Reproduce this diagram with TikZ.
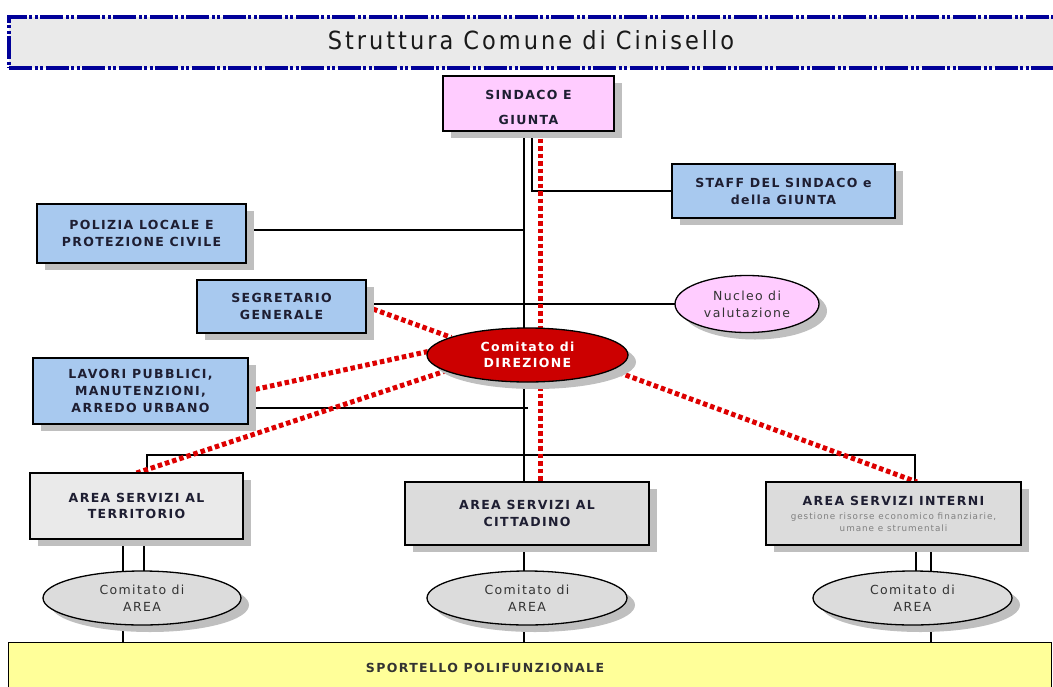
\documentclass[tikz,border=0pt]{standalone}
\usepackage{fontspec}
\setmainfont{DejaVu Sans}
\newfontfamily\lab[LetterSpace=11]{DejaVu Sans}
\newfontfamily\ttl[LetterSpace=12]{DejaVu Sans Condensed}
\usetikzlibrary{shapes.geometric,shadows,backgrounds}
\definecolor{pinkf}{HTML}{FFCCFF}
\definecolor{bluef}{HTML}{A8C9EF}
\definecolor{lgrayf}{HTML}{EAEAEA}
\definecolor{grayf}{HTML}{DCDCDC}
\definecolor{yelf}{HTML}{FFFF99}
\definecolor{redf}{HTML}{CC0000}
\definecolor{reddot}{HTML}{DD0000}
\definecolor{navy}{HTML}{000099}
\definecolor{txt}{HTML}{1E1E32}
\definecolor{txtg}{HTML}{333333}
\begin{document}
\begin{tikzpicture}[x=1pt,y=-1pt,
  shad/.style={drop shadow={shadow xshift=8pt,shadow yshift=-7pt,fill=black!25,opacity=1}},
  box/.style={draw=black,line width=1.3pt,shad,align=center,inner sep=0pt,outer sep=0pt,
    text=txt,font=\lab\bfseries\fontsize{12.5}{17}\selectfont},
  ell/.style={box,ellipse},
  conn/.style={draw=black,line width=1.2pt},
  thickconn/.style={draw=black,line width=2.6pt},
  reddash/.style={draw=reddot,line width=5pt,dash pattern=on 4.5pt off 3pt}]
\useasboundingbox (0,0) rectangle (1053,686);
% title
\node[draw=navy,line width=4pt,dash pattern=on 23pt off 2.5pt on 3pt off 2.5pt on 3pt off 2.5pt,
  fill=lgrayf,minimum width=1060pt,minimum height=51pt,inner sep=0pt,anchor=north west] (title) at (7,15) {};
\node[font=\ttl\fontsize{25}{30}\selectfont,text=black!90,inner sep=0pt] (ttext) at (531,40) {Struttura Comune di Cinisello};
% nodes
\node[box,fill=pinkf,minimum width=171pt,minimum height=55pt,text height=42.5pt,font=\lab\bfseries\fontsize{12.5}{25}\selectfont] (sind) at (528.5,103.5) {SINDACO E\\GIUNTA};
\node[box,fill=bluef,minimum width=223pt,minimum height=54pt] (staff) at (783.5,191) {STAFF DEL SINDACO e\\della GIUNTA};
\node[box,fill=bluef,minimum width=209pt,minimum height=59pt] (pol) at (141.5,233.5) {POLIZIA LOCALE E\\PROTEZIONE CIVILE};
\node[box,fill=bluef,minimum width=169pt,minimum height=53pt] (seg) at (281.5,306.5) {SEGRETARIO\\GENERALE};
\node[box,fill=bluef,minimum width=215pt,minimum height=66pt] (lav) at (140.5,391) {LAVORI PUBBLICI,\\MANUTENZIONI,\\ARREDO URBANO};
\node[ell,fill=pinkf,minimum width=144pt,minimum height=57pt,text=txtg,font=\lab\fontsize{12.5}{17}\selectfont] (nuc) at (747,304) {Nucleo di\\valutazione};
\node[ell,fill=redf,minimum width=201pt,minimum height=54pt,text=white,font=\lab\bfseries\fontsize{12.5}{16}\selectfont] (dir) at (527.5,355) {Comitato di\\DIREZIONE};
\node[box,fill=lgrayf,minimum width=213pt,minimum height=66pt,font=\lab\bfseries\fontsize{12.5}{16}\selectfont] (ter) at (136.5,506) {AREA SERVIZI AL\\TERRITORIO};
\node[box,fill=grayf,minimum width=244pt,minimum height=63pt] (citt) at (527,513.5) {AREA SERVIZI AL\\CITTADINO};
\node[box,fill=grayf,minimum width=255pt,minimum height=63pt] (int) at (893.5,513.5) {AREA SERVIZI INTERNI\\[-3pt]{\mdseries\color{black!50}\fontsize{8.8}{10}\selectfont gestione risorse economico finanziarie,}\\[-5pt]{\mdseries\color{black!50}\fontsize{8.8}{10}\selectfont umane e strumentali}};
\node[ell,fill=grayf,minimum width=198pt,minimum height=54pt,text=txtg,font=\lab\fontsize{12.5}{17}\selectfont] (cl) at (142,598) {Comitato di\\AREA};
\node[ell,fill=grayf,minimum width=200pt,minimum height=54pt,text=txtg,font=\lab\fontsize{12.5}{17}\selectfont] (cm) at (527,598) {Comitato di\\AREA};
\node[ell,fill=grayf,minimum width=199pt,minimum height=54pt,text=txtg,font=\lab\fontsize{12.5}{17}\selectfont] (cr) at (912.5,598) {Comitato di\\AREA};
\node[draw=black,line width=1.3pt,fill=yelf,minimum width=1043pt,minimum height=60pt,inner sep=0pt,anchor=north west] (sport) at (8,642) {};
\node[inner sep=0pt,text=txtg,font=\lab\bfseries\fontsize{12.5}{17}\selectfont] (sptext) at (485,668) {SPORTELLO POLIFUNZIONALE};
% helper coordinates
\coordinate (sx) at (524,0);
\coordinate (sx2) at (532,0);
\coordinate (rx) at (540,0);
\coordinate (lj) at (528,408);
\coordinate (b1) at (147,455);
\coordinate (b2) at (915,455);
\coordinate (tl) at (123,0);
\coordinate (tr) at (144,0);
\coordinate (il) at (916,0);
\coordinate (ir) at (931,0);
\coordinate (ri) at (917,0);
\begin{scope}[on background layer]
\draw[conn] (sind.south -| sx) -- (citt.north -| sx);
\draw[conn] (sind.south -| sx2) |- (staff.west);
\draw[conn] (pol.east |- 0,230) -- (sx |- 0,230);
\draw[conn] (seg.east |- 0,304) -- (nuc.west |- 0,304);
\draw[conn] (lav.east |- lj) -- (lj);
\draw[conn] (ter.north -| b1) -- (b1) -- (b2) -- (int.north -| b2);
\draw[thickconn] (ter.south -| tl) -- (cl.north -| tl);
\draw[conn] (ter.south -| tr) -- (cl.north -| tr);
\draw[thickconn] (cl.south -| tl) -- (sport.north -| tl);
\draw[conn] (citt.south -| sx) -- (cm.north -| sx);
\draw[conn] (cm.south -| sx) -- (sport.north -| sx);
\draw[conn] (int.south -| il) -- (cr.north -| il);
\draw[thickconn] (int.south -| ir) -- (cr.north -| ir);
\draw[thickconn] (cr.south -| ir) -- (sport.north -| ir);
\draw[reddash] (sind.south -| rx) -- (citt.north -| rx);
\draw[reddash] (seg.east) -- (dir.167);
\draw[reddash] (lav.east) -- (dir.178);
\draw[reddash] (ter.north) -- (dir.191);
\draw[reddash] (dir.350) -- (int.north -| ri);
\end{scope}
\end{tikzpicture}
\end{document}
